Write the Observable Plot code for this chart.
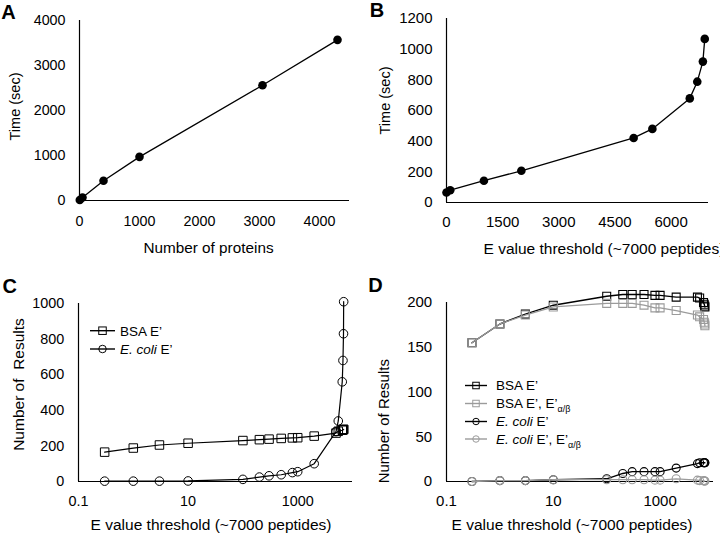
<!DOCTYPE html>
<html><head><meta charset="utf-8">
<script src="https://cdn.jsdelivr.net/npm/d3@7"></script>
<script src="https://cdn.jsdelivr.net/npm/@observablehq/plot@0.6"></script>
<style>
html,body{margin:0;padding:0;background:#fff;overflow:hidden}
#wrap{position:relative;width:720px;height:534px;background:#fff;overflow:hidden}
.panel{position:absolute;width:360px;height:267px}
</style></head><body><div id="wrap"></div>
<script>
// ---- Panel A ----
const proteins = [5, 50, 400, 1000, 3050, 4300];
const timeA = [10, 65, 440, 970, 2560, 3570];
const ticksAx = [0, 1000, 2000, 3000, 4000];
const ticksAy = [0, 1000, 2000, 3000, 4000];
// ---- Panel B ----
const thresholdsB = [0, 100, 1000, 2000, 5000, 5500, 6500, 6700, 6850, 6900];
const timeB = [65, 80, 142, 207, 421, 480, 679, 788, 919, 1067];
const ticksBx = [0, 1500, 3000, 4500, 6000];
const ticksBy = [0, 200, 400, 600, 800, 1000, 1200];
// ---- Panels C and D (shared E value thresholds) ----
const eThresholds = [0.3, 1, 3, 10, 100, 200, 300, 500, 800, 1000, 2000, 5000, 5500, 6500, 6700, 6850, 6900];
const bsaC   = [165, 188, 205, 215, 230, 235, 238, 242, 245, 246, 255, 272, 282, 288, 290, 292, 293];
const ecoliC = [2, 2, 2, 3, 12, 25, 32, 38, 50, 55, 100, 280, 340, 560, 680, 830, 1010];
const bsaD     = [155, 176, 187, 197, 207, 209, 209, 209, 208, 208, 206, 206, 205, 200, 198, 196, 195];
const bsaDab   = [155, 176, 186, 195, 199, 199, 199, 197, 194, 194, 191, 186, 184, 181, 178, 176, 174];
const ecoliD   = [0, 1, 1, 2, 3, 9, 11, 11, 11, 11, 15, 20, 21, 21, 21, 21, 21];
const ecoliDab = [0, 1, 1, 2, 2, 2, 2, 2, 1.5, 1.5, 3, 1.5, 1, 1, 0.5, 0.5, 0.5];
const ticksLogX = [0.1, 10, 1000];
const ticksCy = [0, 200, 400, 600, 800, 1000];
const ticksDy = [0, 50, 100, 150, 200];

const FONT = '"Liberation Sans", Arial, Helvetica, sans-serif';
const GRAY = "#9b9b9b";
const wrap = document.getElementById("wrap");

function place(svg, left, top, tickFont) {
  const d = document.createElement("div");
  d.className = "panel";
  d.style.left = left + "px";
  d.style.top = top + "px";
  d.appendChild(svg);
  wrap.appendChild(d);
  d3.select(svg).selectAll('g[aria-label$="tick label"]').style("font-size", tickFont + "px")
    .selectAll("text").style("font-size", tickFont + "px");
  return svg;
}
const zip = (xs, ys) => xs.map((x, i) => ({x, y: ys[i]}));
const baseStyle = {fontFamily: FONT, fontSize: "14px", color: "#000", background: "transparent", overflow: "visible"};

function axes(xt, yt, xPad, yPad, fs) {
  return [
    Plot.axisX(xt, {tickSize: 0, tickPadding: xPad, fontSize: fs, label: null, tickFormat: d => String(d)}),
    Plot.axisY(yt, {tickSize: 0, tickPadding: yPad, fontSize: fs, label: null, tickFormat: d => String(d)})
  ];
}
function letter(L, dx, dy) {
  return Plot.text([L], {text: d => d, frameAnchor: "top-left", dx, dy, textAnchor: "middle", lineAnchor: "middle", fontSize: 20, fontWeight: "bold"});
}
function xTitle(t, dx, dy, fs) {
  return Plot.text([t], {text: d => d, frameAnchor: "bottom", dx, dy, textAnchor: "middle", lineAnchor: "middle", fontSize: fs});
}
function xTitleLeft(t, dx, dy, fs) {
  return Plot.text([t], {text: d => d, frameAnchor: "bottom-left", dx, dy, textAnchor: "start", lineAnchor: "middle", fontSize: fs});
}
function yTitle(t, dx, dy, fs) {
  return Plot.text([t], {text: d => d, frameAnchor: "left", dx, dy, rotate: -90, textAnchor: "middle", lineAnchor: "middle", fontSize: fs});
}

// ---- A ----
const dA = zip(proteins, timeA);
place(Plot.plot({
  width: 360, height: 267, marginLeft: 79, marginRight: 11, marginTop: 20, marginBottom: 67,
  style: baseStyle,
  x: {domain: [0, 4500]}, y: {domain: [0, 4000]},
  marks: [
    ...axes(ticksAx, ticksAy, 15, 14, 14.3),
    Plot.ruleX([0], {stroke: "#000", strokeWidth: 1.2}),
    Plot.ruleY([0], {stroke: "#000", strokeWidth: 1.2}),
    Plot.line(dA, {x: "x", y: "y", stroke: "#000", strokeWidth: 1.3}),
    Plot.dot(dA, {x: "x", y: "y", r: 4.3, fill: "#000"}),
    xTitle("Number of proteins", -6, 48, 15.3),
    yTitle("Time (sec)", -64, -4, 14.5),
    letter("A", -71, -7.5)
  ]
}), 0, 0, 14.3);

// ---- B ----
const dB = zip(thresholdsB, timeB);
place(Plot.plot({
  width: 360, height: 267, marginLeft: 86, marginRight: 12, marginTop: 18, marginBottom: 65,
  style: baseStyle,
  x: {domain: [0, 7000]}, y: {domain: [0, 1200]},
  marks: [
    ...axes(ticksBx, ticksBy, 14, 14, 15),
    Plot.ruleX([0], {stroke: "#000", strokeWidth: 1.2}),
    Plot.ruleY([0], {stroke: "#000", strokeWidth: 1.2}),
    Plot.line(dB, {x: "x", y: "y", stroke: "#000", strokeWidth: 1.3}),
    Plot.dot(dB, {x: "x", y: "y", r: 4.3, fill: "#000"}),
    xTitleLeft("E value threshold (~7000 peptides)", 37, 47, 15.5),
    yTitle("Time (sec)", -61, -10, 14.5),
    letter("B", -69.5, -7.7)
  ]
}), 360, 0, 15);

// ---- C ----
const dCb = zip(eThresholds, bsaC);
const dCe = zip(eThresholds, ecoliC);
const svgC = place(Plot.plot({
  width: 360, height: 267, marginLeft: 78, marginRight: 8, marginTop: 36, marginBottom: 53,
  style: baseStyle,
  x: {type: "log", domain: [0.1, 10000]}, y: {domain: [0, 1000]},
  marks: [
    ...axes(ticksLogX, ticksCy, 14, 14.3, 14.4),
    Plot.ruleX([0.1], {stroke: "#000", strokeWidth: 1.2}),
    Plot.ruleY([0], {stroke: "#000", strokeWidth: 1.2}),
    Plot.line(dCb, {x: "x", y: "y", stroke: "#000", strokeWidth: 1.2}),
    Plot.dot(dCb, {x: "x", y: "y", symbol: "square", r: 4.8, stroke: "#000", fill: "none", strokeWidth: 1}),
    Plot.line(dCe, {x: "x", y: "y", stroke: "#000", strokeWidth: 1.2}),
    Plot.dot(dCe, {x: "x", y: "y", r: 4.3, stroke: "#000", fill: "none", strokeWidth: 1}),
    xTitle("E value threshold (~7000 peptides)", -4.5, 43.5, 15.5),
    yTitle("Number of\u00a0 Results", -59, -8, 15.5),
    letter("C", -68.8, -16.7)
  ]
}), 0, 267, 14.4);

// ---- D ----
const dDb = zip(eThresholds, bsaD);
const dDba = zip(eThresholds, bsaDab);
const dDe = zip(eThresholds, ecoliD);
const dDea = zip(eThresholds, ecoliDab);
const svgD = place(Plot.plot({
  width: 360, height: 267, marginLeft: 86, marginRight: 7, marginTop: 35, marginBottom: 53,
  style: baseStyle,
  x: {type: "log", domain: [0.1, 10000]}, y: {domain: [0, 200]},
  marks: [
    ...axes(ticksLogX, ticksDy, 14, 14.3, 15),
    Plot.ruleX([0.1], {stroke: "#000", strokeWidth: 1.2}),
    Plot.ruleY([0], {stroke: "#000", strokeWidth: 1.2}),
    Plot.line(dDb, {x: "x", y: "y", stroke: "#000", strokeWidth: 1.4}),
    Plot.dot(dDb, {x: "x", y: "y", symbol: "square", r: 4.5, stroke: "#000", fill: "none", strokeWidth: 1.1}),
    Plot.line(dDba, {x: "x", y: "y", stroke: GRAY, strokeWidth: 1.3}),
    Plot.dot(dDba, {x: "x", y: "y", symbol: "square", r: 4.5, stroke: GRAY, fill: "none", strokeWidth: 1.1}),
    Plot.line(dDe, {x: "x", y: "y", stroke: "#000", strokeWidth: 1.4}),
    Plot.dot(dDe, {x: "x", y: "y", r: 4, stroke: "#000", fill: "none", strokeWidth: 1.1}),
    Plot.line(dDea, {x: "x", y: "y", stroke: GRAY, strokeWidth: 1.3}),
    Plot.dot(dDea, {x: "x", y: "y", r: 4, stroke: GRAY, fill: "none", strokeWidth: 1.1}),
    xTitle("E value threshold (~7000 peptides)", -8, 43.5, 15.5),
    yTitle("Number of Results", -62.7, 29.2, 15),
    letter("D", -71, -16.7)
  ]
}), 360, 267, 15);

// ---- legends ----
function legend(svg, items, x0, x1, xm, xt, ys, ms, fs) {
  const g = d3.select(svg).append("g").attr("font-family", FONT).attr("font-size", fs).attr("text-anchor", "start");
  items.forEach((it, i) => {
    const y = ys[i];
    g.append("line").attr("x1", x0).attr("x2", x1).attr("y1", y).attr("y2", y)
      .attr("stroke", it.color).attr("stroke-width", 1.4);
    if (it.symbol === "square") {
      g.append("rect").attr("x", xm - ms / 2).attr("y", y - ms / 2).attr("width", ms).attr("height", ms)
        .attr("fill", "none").attr("stroke", it.color).attr("stroke-width", 1);
    } else {
      g.append("circle").attr("cx", xm).attr("cy", y).attr("r", ms / 2)
        .attr("fill", "none").attr("stroke", it.color).attr("stroke-width", 1);
    }
    const t = g.append("text").attr("x", xt).attr("y", y).attr("dy", "0.36em").attr("fill", "#000")
      .attr("text-anchor", "start");
    it.parts.forEach(p => {
      const s = t.append("tspan").text(p.t);
      if (p.i) s.attr("font-style", "italic");
      if (p.sub) s.attr("font-size", 9).attr("dy", 4);
    });
  });
}
legend(svgC, [
  {symbol: "square", color: "#000", parts: [{t: "BSA E\u2019"}]},
  {symbol: "circle", color: "#000", parts: [{t: "E. coli", i: true}, {t: " E\u2019"}]}
], 90, 115, 102.5, 120, [63.7, 82], 7.5, 13.5);
legend(svgD, [
  {symbol: "square", color: "#000", parts: [{t: "BSA E\u2019"}]},
  {symbol: "square", color: GRAY, parts: [{t: "BSA E\u2019, E\u2019"}, {t: "\u03b1/\u03b2", sub: true}]},
  {symbol: "circle", color: "#000", parts: [{t: "E. coli", i: true}, {t: " E\u2019"}]},
  {symbol: "circle", color: GRAY, parts: [{t: "E. coli", i: true}, {t: " E\u2019, E\u2019"}, {t: "\u03b1/\u03b2", sub: true}]}
], 105, 127, 116, 136, [118.5, 136.5, 154.5, 172], 6.5, 13.5);
</script></body></html>
